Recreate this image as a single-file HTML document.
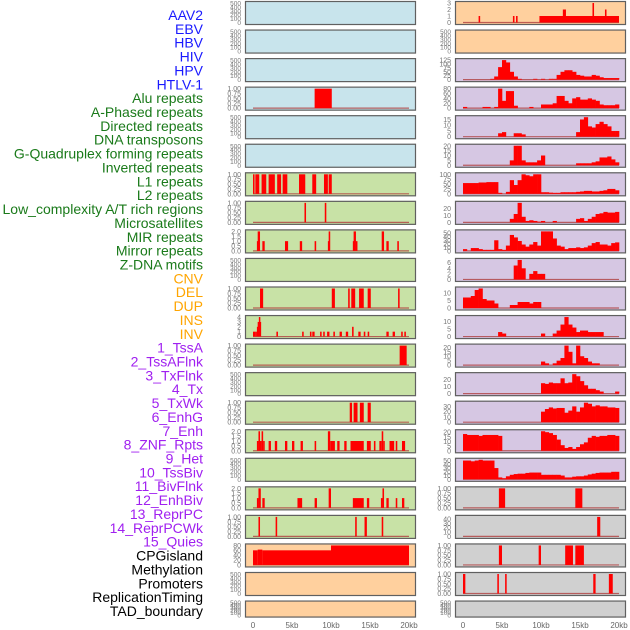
<!DOCTYPE html>
<html><head><meta charset="utf-8"><style>
html,body{margin:0;padding:0;background:#fff;}
svg{display:block;font-family:"Liberation Sans",sans-serif;}
</style></head><body>
<svg id="chart" width="630" height="630" viewBox="0 0 630 630"></svg>
<script>
const NS="http://www.w3.org/2000/svg";
const trackLabels=["AAV2","EBV","HBV","HIV","HPV","HTLV-1","Alu repeats","A-Phased repeats","Directed repeats","DNA transposons","G-Quadruplex forming repeats","Inverted repeats","L1 repeats","L2 repeats","Low_complexity A/T rich regions","Microsatellites","MIR repeats","Mirror repeats","Z-DNA motifs","CNV","DEL","DUP","INS","INV","1_TssA","2_TssAFlnk","3_TxFlnk","4_Tx","5_TxWk","6_EnhG","7_Enh","8_ZNF_Rpts","9_Het","10_TssBiv","11_BivFlnk","12_EnhBiv","13_ReprPC","14_ReprPCWk","15_Quies","CPGisland","Methylation","Promoters","ReplicationTiming","TAD_boundary"];
const labelGroups=[6,13,5,15,5];
const groupColors=["#1a1aff","#1a7a1a","#ffa500","#a020f0","#000000"];
const xTicks=[0,5,10,15,20];
const xTickLabels=["0","5kb","10kb","15kb","20kb"];
// left column segments [startKb,endKb,value]
const L4=[[7.9,10.1,1]];
const L7=[[0,0.2,1],[0.3,0.8,1],[1.1,1.7,1],[2.0,2.8,1],[3.1,3.6,1],[3.8,4.4,1],[5.9,6.7,1],[7.6,8.1,1],[9.1,9.6,1],[9.7,10.1,1]];
const L8=[[6.6,6.8,1],[9.2,9.4,1]];
const L9=[[0.5,0.6,1],[0.6,0.9,2],[1.2,1.5,1],[4.1,4.5,1],[6.0,6.3,1],[7.9,8.1,1],[9.6,9.7,1],[9.7,9.9,2],[12.8,12.9,1],[12.9,13.2,2],[13.2,13.3,1],[16.5,16.8,2],[17.1,17.4,1],[18.5,18.7,1]];
const L11=[[0.9,1.3,1],[10.1,10.5,1],[12.2,12.4,1],[12.6,13.1,1],[13.6,14.2,1],[14.7,15.1,1],[18.6,18.8,1]];
const L12=[[0,0.3,1],[0.3,0.5,1],[0.5,0.6,2],[0.6,0.75,3],[0.75,0.85,4],[0.85,1.0,3],[3.0,3.2,1],[6.3,6.5,1],[7.3,7.5,1],[7.6,7.9,1],[8.6,8.8,1],[9.0,9.2,1],[9.5,9.8,1],[10.3,10.5,1],[11.1,11.4,1],[11.9,12.2,1],[12.7,12.9,2],[13.5,13.8,1],[14.2,14.4,1],[14.7,14.9,1],[17.1,17.4,1],[17.9,18.2,1],[19.0,19.2,1],[19.4,19.6,1]];
const L13=[[18.8,19.7,1]];
const L15=[[12.4,12.7,1],[12.9,13.4,1],[13.7,14.2,1],[14.7,15.1,1]];
const L16=[[0.5,0.7,1],[0.7,0.9,2],[0.9,1.1,1],[1.1,1.3,2],[1.3,1.5,1],[2.0,2.3,1],[2.8,3.1,1],[4.1,4.4,1],[5.0,5.3,1],[6.1,6.4,1],[7.9,8.1,1],[9.6,9.9,2],[9.9,10.5,1],[10.8,11.1,1],[11.7,12.0,1],[12.5,14.2,1],[14.6,15.1,1],[15.5,15.7,1],[16.2,16.5,1],[16.5,16.7,2],[16.7,16.8,1],[17.5,18.1,1],[18.3,18.5,1],[19.1,19.5,1]];
const L18=[[0.5,0.7,1],[0.7,1.0,2],[1.2,1.5,1],[5.7,6.3,1],[7.9,8.2,1],[9.7,10.0,2],[12.8,14.2,1],[14.6,14.9,1],[16.4,16.6,1],[16.6,16.8,2],[17.1,17.4,1],[18.3,18.5,1],[19.1,19.4,1]];
const L19=[[0.7,0.9,1],[2.9,3.1,1],[13.1,13.3,1],[14.3,14.6,1],[16.5,16.7,1]];
const L20=[[0,0.6,60],[0.6,1.2,63],[1.2,10,60],[10,20,80]];
// right column
const R1=[[2.0,2.2,1],[6.4,6.6,1],[6.8,7.0,1],[9.8,20,1],[12.8,13.2,2],[16.6,16.8,3],[18.2,18.4,2]];
const R3=[0,0,0,0,0,0,0,5,20,80,125,110,50,20,5,0,0,0,5,0,5,0,5,5,30,50,60,60,50,30,25,20,20,30,25,15,10,10,10,10];
const R4=[5,0,0,0,0,5,5,0,5,80,30,70,70,10,0,0,0,5,0,0,15,15,15,20,50,50,30,20,40,45,35,35,40,35,30,15,12,12,12,15];
const R5=[0,0,0,0,0,0,0,0,0,3,4,0,0,3,3,2,0,0,0,0,0,0,0,0,0,0,0,0,0,4,15,17,9,8,11,13,11,9,5,5];
const R6=[0,0,0,0,0,0,0,0,0,0,0,0,5,20,20,5,3,3,3,5,10,0,0,0,0,0,0,0,0,2,2,2,2,3,4,8,8,9,6,3];
const R7=[55,55,55,55,58,58,60,60,60,5,0,10,70,45,70,100,95,90,100,100,8,8,6,5,5,8,8,8,8,10,12,15,15,12,12,15,18,25,25,18];
const R8=[0,0,0,0,0,0,0,0,0,0,0,0,5,12,28,8,2,3,2,1,2,0,0,2,0,0,0,0,0,5,6,2,5,8,12,13,15,14,14,15];
const R9=[5,0,8,8,5,3,3,3,30,5,3,15,45,38,28,18,12,18,25,15,55,55,55,35,15,12,5,8,8,10,8,10,15,22,25,18,18,15,22,24];
const R10=[0,0,0,0,0,0,0,0,0,0,0,0,0,5,7,4,0,2,3,2,2,0,0,0,0,0,0,0,0,0,0,0,0,0,0,0,0,0,0,0];
const R11=[7,7,8,12,13,6,5,5,3,0,0,0,2,2,4,4,4,3,4,4,0,0,0,0,0,0,0,0,0,0,0,0,0,0,0,0,0,0,0,0];
const R12=[0,0,0,0,0,0,0,0,0,3,2,0,0,0,0,0,0,0,0,0,2,0,0,2,4,8,13,8,6,3,4,4,3,3,3,3,0,0,0,0];
const R13=[0,0,0,0,0,0,0,0,0,0,0,0,0,0,0,0,0,0,0,0,4,2,0,2,5,8,22,15,2,22,10,8,4,2,2,0,0,0,0,0];
const R14=[0,0,0,0,0,0,0,0,0,0,0,0,0,0,0,0,0,0,0,0,15,14,16,15,15,22,15,16,28,25,18,12,7,7,5,3,0,0,0,3];
const R15=[0,0,0,0,0,0,0,0,0,0,0,0,0,0,0,0,0,0,0,0,20,25,28,26,27,27,18,22,30,20,28,37,35,30,32,30,30,28,28,27];
const R16=[18,17,17,17,16,17,17,17,17,16,0,0,0,0,0,0,0,0,0,0,21,20,19,17,12,6,3,4,2,4,7,9,14,16,15,16,16,17,17,16];
const R17=[50,50,48,50,52,50,50,50,30,5,3,8,12,14,15,15,17,18,18,18,12,12,12,12,12,10,5,5,7,8,8,10,13,15,17,18,18,18,20,20];
const R18=[[4.6,5.4,1],[14.4,15.3,1]];
const R19=[[17.2,17.6,45]];
const R20=[[4.6,5.0,1],[9.7,10.0,1],[13.1,14.1,1],[14.4,15.5,1]];
const R21=[[0,0.3,1],[4.4,4.6,1],[5.4,5.6,1],[16.7,17.0,1],[18.7,19.2,1]];

const T01=[0,0.25,0.5,0.75,1], T01L=["0.00","0.25","0.50","0.75","1.00"];
const T02=[0,0.5,1,1.5,2], T02L=["0.0","0.5","1.0","1.5","2.0"];
const TE=[0,100,200,300,400,500];
const BLUE="#c8e4ec",GREEN="#c8e2a6",ORANGE="#ffd09e",PURPLE="#d6c7e3",GRAY="#d0d0d0";
const panels=[];
function P(col,row,bg,ticks,tl,kind,data){panels.push({col,row,bg,ticks,tl:tl||ticks.map(String),kind,data});}
const E=null;
P(0,0,BLUE,TE,E,"empty");P(0,1,BLUE,TE,E,"empty");P(0,2,BLUE,TE,E,"empty");
P(0,3,BLUE,T01,T01L,"seg",L4);P(0,4,BLUE,TE,E,"empty");P(0,5,BLUE,TE,E,"empty");
P(0,6,GREEN,T01,T01L,"seg",L7);P(0,7,GREEN,T01,T01L,"seg",L8);P(0,8,GREEN,T02,T02L,"seg",L9);
P(0,9,GREEN,TE,E,"empty");P(0,10,GREEN,T01,T01L,"seg",L11);P(0,11,GREEN,[0,1,2,3,4],E,"seg",L12);
P(0,12,GREEN,T01,T01L,"seg",L13);P(0,13,GREEN,TE,E,"empty");P(0,14,GREEN,T01,T01L,"seg",L15);
P(0,15,GREEN,T02,T02L,"seg",L16);P(0,16,GREEN,TE,E,"empty");P(0,17,GREEN,T02,T02L,"seg",L18);
P(0,18,GREEN,T01,T01L,"seg",L19);P(0,19,ORANGE,[0,20,40,60,80],E,"seg",L20);
P(0,20,ORANGE,TE,E,"empty");P(0,21,ORANGE,TE,E,"empty");
P(1,0,ORANGE,[0,1,2,3],E,"seg",R1);P(1,1,ORANGE,TE,E,"empty");
P(1,2,PURPLE,[0,25,50,75,100,125],E,"bin",R3);P(1,3,PURPLE,[0,20,40,60,80],E,"bin",R4);
P(1,4,PURPLE,[0,5,10,15],E,"bin",R5);P(1,5,PURPLE,[0,5,10,15,20],E,"bin",R6);
P(1,6,PURPLE,[0,25,50,75,100],E,"bin",R7);P(1,7,PURPLE,[0,10,20],E,"bin",R8);
P(1,8,PURPLE,[0,10,20,30,40,50],E,"bin",R9);P(1,9,PURPLE,[0,2,4,6],E,"bin",R10);
P(1,10,PURPLE,[0,5,10],E,"bin",R11);P(1,11,PURPLE,[0,5,10],E,"bin",R12);
P(1,12,PURPLE,[0,5,10,15,20],E,"bin",R13);P(1,13,PURPLE,[0,10,20],E,"bin",R14);
P(1,14,PURPLE,[0,10,20,30],E,"bin",R15);P(1,15,PURPLE,[0,5,10,15,20],E,"bin",R16);
P(1,16,PURPLE,[0,10,20,30,40,50],E,"bin",R17);P(1,17,GRAY,T01,T01L,"seg",R18);
P(1,18,GRAY,[0,10,20,30,40],E,"seg",R19);P(1,19,GRAY,T01,T01L,"seg",R20);
P(1,20,GRAY,T01,T01L,"seg",R21);P(1,21,GRAY,TE,E,"empty");

const svg=document.getElementById("chart");
function mk(tag,attrs,parent){const e=document.createElementNS(NS,tag);for(const k in attrs)e.setAttribute(k,attrs[k]);(parent||svg).appendChild(e);return e;}
// labels
let gi=0,cnt=0;
trackLabels.forEach((t,i)=>{
  const e=mk("text",{x:203,y:15+13.86*i+5,"text-anchor":"end","font-size":"14",fill:groupColors[gi]});
  e.textContent=t;
  
  
  cnt++;if(cnt>=labelGroups[gi]){gi++;cnt=0;}
});
const colX=[245,455];
function xScale(col,kb){return colX[col]+8+kb*7.8;}
panels.forEach(p=>{
  const y0=1+28.55*p.row, h=p.row===21?17:24;
  const top=y0+2, bot=y0+h-2.5;
  const g=mk("g",{});
  
  
  mk("rect",{x:colX[p.col],y:y0,width:171,height:h,fill:p.bg},g);
  let maxV=p.ticks[p.ticks.length-1];
  if(p.kind==="bin")p.data.forEach(v=>{if(v>maxV)maxV=v;});
  if(p.kind==="seg")p.data.forEach(s=>{if(s[2]>maxV)maxV=s[2];});
  const yS=v=>bot-(v/maxV)*(bot-top);
  if(p.kind!=="empty"){
    mk("line",{x1:xScale(p.col,0),x2:xScale(p.col,20),y1:bot,y2:bot,stroke:"#b04040","stroke-width":1.2,opacity:0.8},g);
  }
  if(p.kind==="seg"){
    p.data.forEach(s=>{
      const x1=xScale(p.col,s[0]),x2=xScale(p.col,s[1]);
      const r=mk("rect",{x:x1,y:yS(s[2]),width:Math.max(1.5,x2-x1),height:bot-yS(s[2]),fill:"#ff0000"},g);
      
      
    });
  }
  if(p.kind==="bin"){
    p.data.forEach((v,i)=>{
      if(v<=0)return;
      const x1=xScale(p.col,i*0.5),x2=xScale(p.col,i*0.5+0.5);
      const r=mk("rect",{x:x1,y:yS(v),width:x2-x1+0.3,height:bot-yS(v),fill:"#ff0000"},g);
      
      
    });
  }
  mk("rect",{x:colX[p.col]+0.5,y:y0+0.5,width:170,height:h-1,fill:"none",stroke:"#606060","stroke-width":1.2},g);
  p.ticks.forEach((t,i)=>{
    const e=mk("text",{x:colX[p.col]-4,y:yS(t)+2.5,"text-anchor":"end","font-size":p.kind==="empty"?"6.5":"7",fill:"#777"},g);
    e.textContent=p.tl[i];
  });
});
// x axes
[0,1].forEach(c=>{
  xTicks.forEach((t,i)=>{
    const e=mk("text",{x:xScale(c,t),y:628,"text-anchor":"middle","font-size":"8",fill:"#666"});
    e.textContent=xTickLabels[i];
    
    
  });
});
</script>
</body></html>
